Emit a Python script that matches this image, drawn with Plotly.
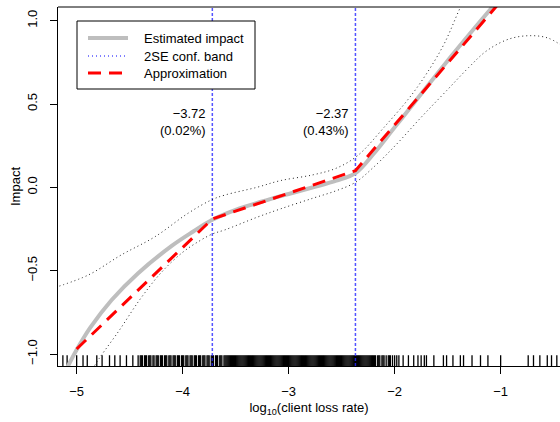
import plotly.graph_objects as go

# ---- data ----
est_x = [-5.12, -5.0, -4.875, -4.67, -4.42, -4.10, -3.90, -3.72, -3.50, -3.25, -3.00,
         -2.77, -2.55, -2.37, -2.20, -2.00, -1.80, -1.50, -1.20, -1.00]
est_y = [-1.12, -0.975, -0.845, -0.676, -0.515, -0.35, -0.265, -0.195, -0.135, -0.085, -0.04,
         0.0, 0.04, 0.085, 0.20, 0.36, 0.52, 0.76, 0.99, 1.14]

up_x = [-5.20, -4.89, -4.58, -4.26, -3.95, -3.73, -3.60, -3.30, -3.08, -2.77, -2.55, -2.35,
        -2.10, -1.81, -1.55, -1.38, -1.20]
up_y = [-0.60, -0.526, -0.406, -0.296, -0.156, -0.076, -0.046, 0.0, 0.04, 0.075, 0.115, 0.19,
        0.36, 0.58, 0.84, 1.08, 1.32]

lo_x = [-4.85, -4.78, -4.60, -4.40, -4.20, -4.00, -3.85, -3.72, -3.60, -3.30, -3.08, -2.77,
        -2.55, -2.37, -2.20, -1.98, -1.75, -1.51, -1.30, -1.13, -0.92, -0.72, -0.55, -0.40]
lo_y = [-1.09, -1.02, -0.86, -0.67, -0.51, -0.39, -0.325, -0.28, -0.255, -0.18, -0.13, -0.065,
        -0.02, 0.03, 0.12, 0.26, 0.42, 0.58, 0.72, 0.82, 0.89, 0.91, 0.895, 0.84]

approx_x = [-5.0, -3.72, -2.37, -0.9]
approx_y = [-0.97, -0.19, 0.10, 1.19]

breaks = [-3.72, -2.37]
break_labels = ["\u22123.72<br>(0.02%)", "\u22122.37<br>(0.43%)"]

rug = [-5.13, -5.09, -5.00, -4.94, -4.90, -4.81, -4.76, -4.69, -4.64, -4.59, -4.53, -4.47, -4.42,
       -4.40, -4.39, -4.38, -4.36, -4.35, -4.34, -4.32, -4.31, -4.30, -4.28, -4.27, -4.25, -4.24,
       -4.23, -4.21, -4.20, -4.19, -4.17, -4.16, -4.15, -4.13, -4.12, -4.11, -4.09, -4.08, -4.07,
       -4.05, -4.04, -4.03, -4.01, -4.00, -3.99, -3.97, -3.96, -3.95, -3.93, -3.92, -3.91, -3.89,
       -3.88, -3.87, -3.85, -3.84, -3.83, -3.81, -3.80, -3.79, -3.77, -3.76, -3.75, -3.73, -3.72,
       -3.71, -3.69, -3.68, -3.67, -3.65, -3.64, -3.63, -3.61, -3.60,
       -3.59, -3.58, -3.57, -3.56, -3.55, -3.54, -3.53, -3.52, -3.51, -3.50, -3.49, -3.48, -3.47,
       -3.46, -3.45, -3.44, -3.43, -3.42, -3.41, -3.40, -3.39, -3.38, -3.37, -3.36, -3.35, -3.34,
       -3.33, -3.32, -3.31, -3.30, -3.29, -3.28, -3.27, -3.26, -3.25, -3.24, -3.23, -3.22, -3.21,
       -3.20, -3.19, -3.18, -3.17, -3.16, -3.15, -3.14, -3.13, -3.12, -3.11, -3.10, -3.09, -3.08,
       -3.07, -3.06, -3.05, -3.04, -3.03, -3.02, -3.01, -3.00, -2.99, -2.98, -2.97, -2.96, -2.95,
       -2.94, -2.93, -2.92, -2.91, -2.90, -2.89, -2.88, -2.87, -2.86, -2.85, -2.84, -2.83, -2.82,
       -2.81, -2.80, -2.79, -2.78, -2.77, -2.76, -2.75, -2.74, -2.73, -2.72, -2.71, -2.70, -2.69,
       -2.68, -2.67, -2.66, -2.65, -2.64, -2.63, -2.62, -2.61, -2.60, -2.59, -2.58, -2.57, -2.56,
       -2.55, -2.54, -2.53, -2.52, -2.51, -2.50, -2.49, -2.48, -2.47, -2.46, -2.45, -2.44, -2.43,
       -2.42, -2.41, -2.40, -2.39, -2.38, -2.37, -2.36, -2.35, -2.34, -2.33, -2.32, -2.31, -2.30,
       -2.29, -2.28, -2.27, -2.26, -2.25, -2.24, -2.23, -2.22, -2.21, -2.20, -2.19, -2.18, -2.16,
       -2.15, -2.14, -2.12, -2.11, -2.10, -2.08, -2.06, -2.05, -2.04, -2.02, -2.00, -1.98, -1.96,
       -1.92, -1.87, -1.82, -1.78, -1.75, -1.72, -1.70, -1.63, -1.54, -1.51, -1.45, -1.38, -1.35,
       -1.27, -1.19, -1.12, -1.00, -0.74, -0.69, -0.63, -0.56, -0.52, -0.47]

x_ticks = [-5, -4, -3, -2, -1]
y_ticks = [-1.0, -0.5, 0.0, 0.5, 1.0]
x_range = [-5.176, -0.440]
y_range = [-1.072, 1.082]

FONT = "Liberation Sans, Arial, sans-serif"

fig = go.Figure()

# rug
rug_top = y_range[0] + 0.03 * (y_range[1] - y_range[0])
rx, ry = [], []
for v in rug:
    rx += [v, v, None]
    ry += [y_range[0], rug_top, None]
fig.add_trace(go.Scatter(x=rx, y=ry, mode="lines", line=dict(color="black", width=1.3),
                         showlegend=False, hoverinfo="skip"))

# break lines
for b in breaks:
    fig.add_trace(go.Scatter(x=[b, b], y=y_range, mode="lines",
                             line=dict(color="rgba(40,40,255,0.8)", width=1.5, dash="3px,2px"),
                             showlegend=False, hoverinfo="skip"))

# conf band
for bx, by in [(up_x, up_y), (lo_x, lo_y)]:
    fig.add_trace(go.Scatter(x=bx, y=by, mode="lines", line_shape="spline",
                             line=dict(color="#222", width=1, dash="1px,3px"),
                             showlegend=False))

# estimated impact
fig.add_trace(go.Scatter(x=est_x, y=est_y, mode="lines", line_shape="spline",
                         line=dict(color="#BEBEBE", width=4), showlegend=False))

# approximation
fig.add_trace(go.Scatter(x=approx_x, y=approx_y, mode="lines",
                         line=dict(color="#FF0000", width=3, dash="13px,8px"), showlegend=False))

# break annotations
for b, t in zip(breaks, break_labels):
    fig.add_annotation(x=b, y=0.395, xref="x", yref="y", text=t, showarrow=False,
                       xanchor="right", align="right", xshift=-4,
                       font=dict(family=FONT, size=13, color="black"))

# manual legend (paper coordinates)
def px2paper(px, py):
    return (px - 58) / 502, (366 - py) / 359

bx0, by0 = px2paper(77, 89)
bx1, by1 = px2paper(255, 21)
shapes = [dict(type="rect", xref="paper", yref="paper", x0=bx0, y0=by0, x1=bx1, y1=by1,
               line=dict(color="black", width=1), fillcolor="white", layer="above")]
leg_items = [("Estimated impact", dict(color="#BEBEBE", width=4), 38),
             ("2SE conf. band", dict(color="blue", width=1, dash="1px,3px"), 56),
             ("Approximation", dict(color="#FF0000", width=3, dash="13px,8px"), 73)]
for name, ln, py in leg_items:
    lx0, ly = px2paper(88, py)
    lx1, _ = px2paper(128, py)
    shapes.append(dict(type="line", xref="paper", yref="paper", x0=lx0, x1=lx1, y0=ly, y1=ly,
                       line=ln, layer="above"))
    tx, _ = px2paper(142, py)
    fig.add_annotation(x=tx, y=ly, xref="paper", yref="paper", text=name, showarrow=False,
                       xanchor="left", yanchor="middle",
                       font=dict(family=FONT, size=13, color="black"))
# top border of plot box
shapes.append(dict(type="line", xref="paper", yref="paper", x0=0, x1=1, y0=1, y1=1,
                   line=dict(color="black", width=1)))

fig.update_layout(
    width=560, height=422,
    margin=dict(l=58, r=0, t=7, b=56, autoexpand=False),
    plot_bgcolor="white", paper_bgcolor="white",
    font=dict(family=FONT, size=13, color="black"),
    shapes=shapes,
    showlegend=False,
    xaxis=dict(range=x_range, tickvals=x_ticks, ticks="outside", ticklen=7, tickwidth=1,
               tickcolor="black", showline=True, linecolor="black", linewidth=1,
               showgrid=False, zeroline=False, ticklabelstandoff=6, automargin=False,
               title=dict(text="log<sub>10</sub>(client loss rate)", standoff=5,
                          font=dict(family=FONT, size=13))),
    yaxis=dict(range=y_range, tickvals=y_ticks, tickformat=".1f", tickangle=-90, ticks="outside",
               ticklen=7, tickwidth=1, tickcolor="black", showline=True, linecolor="black",
               linewidth=1, showgrid=False, zeroline=False, ticklabelstandoff=8, automargin=False,
               title=dict(text="Impact", standoff=1, font=dict(family=FONT, size=13))),
)

fig.write_html("out.html", config={"displayModeBar": False},
               post_script="document.body.style.margin='0';document.body.style.padding='0';"
                           "window.dispatchEvent(new Event('resize'));")
